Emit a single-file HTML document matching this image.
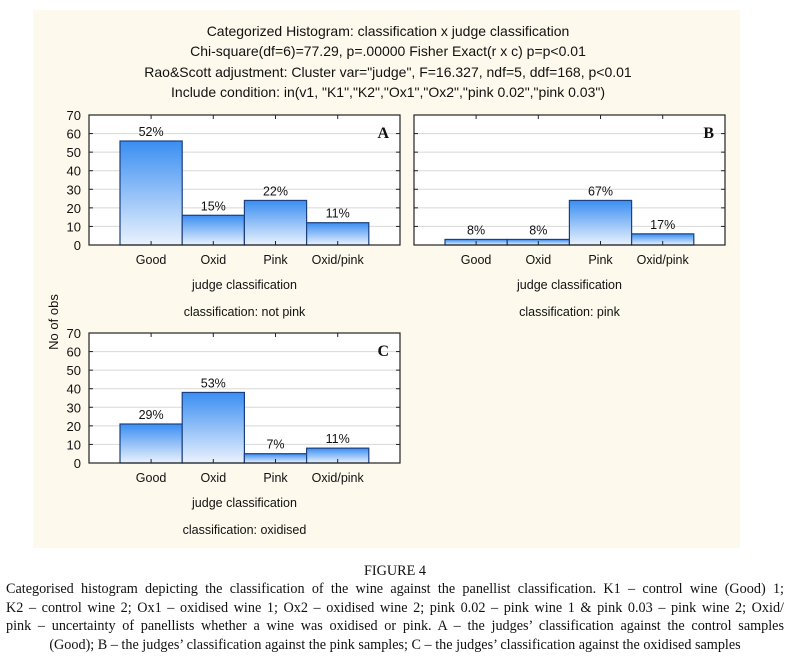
<!DOCTYPE html>
<html><head><meta charset="utf-8">
<style>
html,body{margin:0;padding:0;background:#fff;width:790px;height:657px;overflow:hidden}
#bg{position:absolute;left:33px;top:10px;width:707px;height:538px;background:#fdf9ec}
svg{position:absolute;left:0;top:0}
#cap{position:absolute;left:6px;top:562px;width:778px;font-family:"Liberation Serif",serif;font-size:14.2px;line-height:18.4px;color:#111}
#cap div{text-align:justify;text-align-last:justify;white-space:nowrap}
#cap .c{text-align:center;text-align-last:center}
</style></head><body>
<div id="bg"></div>
<svg id="chart" width="790" height="657" font-family="Liberation Sans, Arial, sans-serif">
<defs><linearGradient id="g" x1="0" y1="0" x2="0" y2="1"><stop offset="0" stop-color="#3a8ef2"/><stop offset="1" stop-color="#eaf2fd"/></linearGradient></defs>
<g font-size="14" text-anchor="middle" fill="#111">
<text x="388" y="36">Categorized Histogram: classification x judge classification</text>
<text x="388" y="56">Chi-square(df=6)=77.29, p=.00000 Fisher Exact(r x c) p=p&lt;0.01</text>
<text x="388" y="77">Rao&amp;Scott adjustment: Cluster var="judge", F=16.327, ndf=5, ddf=168, p&lt;0.01</text>
<text x="388" y="97">Include condition: in(v1, "K1","K2","Ox1","Ox2","pink 0.02","pink 0.03")</text>
</g>
<text transform="translate(58,322) rotate(-90)" font-size="13" text-anchor="middle" fill="#111">No of obs</text>
</svg>
<div id="cap">
<div class="c">FIGURE 4</div>
<div>Categorised histogram depicting the classification of the wine against the panellist classification. K1 – control wine (Good) 1;</div>
<div>K2 – control wine 2; Ox1 – oxidised wine 1; Ox2 – oxidised wine 2; pink 0.02 – pink wine 1 &amp; pink 0.03 – pink wine 2; Oxid/</div>
<div>pink – uncertainty of panellists whether a wine was oxidised or pink. A – the judges’ classification against the control samples</div>
<div class="c">(Good); B – the judges’ classification against the pink samples; C – the judges’ classification against the oxidised samples</div>
</div>
<script>
const categories=["Good","Oxid","Pink","Oxid/pink"];
const valuesA=[56,16,24,12];
const valuesB=[3,3,24,6];
const valuesC=[21,38,5,8];
const pctA=["52%","15%","22%","11%"];
const pctB=["8%","8%","67%","17%"];
const pctC=["29%","53%","7%","11%"];
const yTicks=[0,10,20,30,40,50,60,70];
const NS="http://www.w3.org/2000/svg";
const svg=document.getElementById('chart');
function mk(t,a,p){const e=document.createElementNS(NS,t);for(const k in a)e.setAttribute(k,a[k]);(p||svg).appendChild(e);return e;}
function panel(id,L,T,vals,pcts,letter,sub,showY){
  const W=311,H=130,B=T+H;
  const g=mk('g',{});
  
  
  const y=v=>B-v*H/70;
  const slot=62.2;
  const x=i=>L+31+slot*i;
  mk('rect',{x:L,y:T,width:W,height:H,fill:'#fff'},g);
  yTicks.forEach(t=>{
    if(t>0&&t<70){const ln=mk('line',{x1:L,x2:L+W,y1:y(t),y2:y(t),stroke:'#d8d8d8','stroke-width':1},g);
    }
    mk('line',{x1:L,x2:L+4,y1:y(t),y2:y(t),stroke:'#222'},g);
    mk('line',{x1:L+W-4,x2:L+W,y1:y(t),y2:y(t),stroke:'#222'},g);
    if(showY){const tx=mk('text',{x:L-8,y:y(t)+5,'font-size':13,'text-anchor':'end',fill:'#111'},g);tx.textContent=t;
    }
  });
  vals.forEach((v,i)=>{
    const r=mk('rect',{x:x(i),y:y(v),width:slot,height:B-y(v),fill:'url(#g)',stroke:'#1b3f80','stroke-width':1.2},g);
    
    
    const cx=x(i)+slot/2;
    mk('line',{x1:cx,x2:cx,y1:B,y2:B-4,stroke:'#222'},g);
    mk('line',{x1:cx,x2:cx,y1:T,y2:T+4,stroke:'#222'},g);
    const p=mk('text',{x:cx,y:y(v)-5,'font-size':12.5,'text-anchor':'middle',fill:'#111'},g);p.textContent=pcts[i];
    
    const c=mk('text',{x:cx,y:B+19,'font-size':12.5,'text-anchor':'middle',fill:'#111'},g);c.textContent=categories[i];
    
  });
  mk('rect',{x:L,y:T,width:W,height:H,fill:'none',stroke:'#222','stroke-width':1.2},g);
  const lt=mk('text',{x:L+W-11,y:T+23,'font-size':16,'font-weight':'bold','font-family':'Liberation Serif, serif','text-anchor':'end',fill:'#111'},g);lt.textContent=letter;
  
  const xt=mk('text',{x:L+W/2,y:B+44,'font-size':12.5,'text-anchor':'middle',fill:'#111'},g);xt.textContent='judge classification';
  
  const st=mk('text',{x:L+W/2,y:B+71,'font-size':12.5,'text-anchor':'middle',fill:'#111'},g);st.textContent='classification: '+sub;
  
}
panel('a',89,115,valuesA,pctA,'A','not pink',true);
panel('b',414,115,valuesB,pctB,'B','pink',false);
panel('c',89,333,valuesC,pctC,'C','oxidised',true);
</script>
</body></html>
